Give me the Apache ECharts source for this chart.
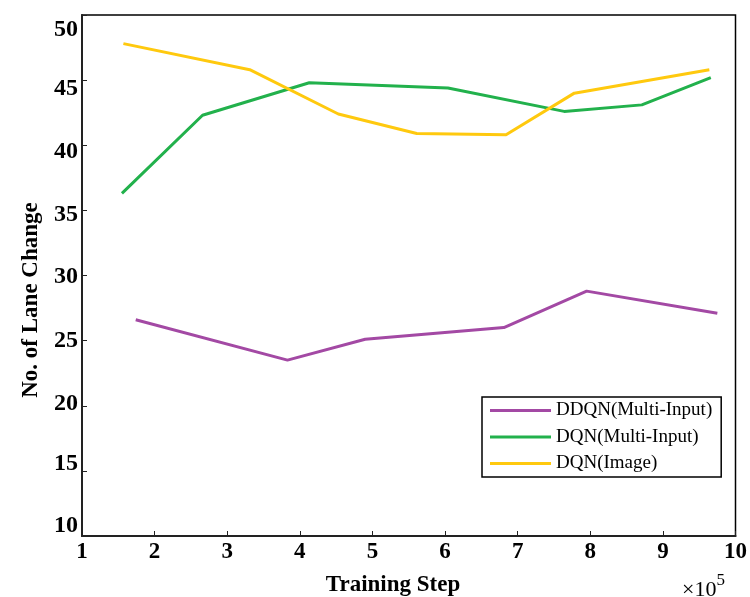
<!DOCTYPE html>
<html>
<head>
<meta charset="utf-8">
<script src="https://cdn.jsdelivr.net/npm/echarts@6/dist/echarts.min.js"></script>
<style>html,body{margin:0;padding:0;background:#fff;}#c{width:750px;height:597px;}</style>
</head>
<body>
<div id="c"></div>
<script>
// Data (x in units of 1e5 training steps)
const seriesNames = ['DDQN(Multi-Input)', 'DQN(Multi-Input)', 'DQN(Image)'];
const ddqnMultiX = [1.74, 3.83, 4.90, 6.81, 7.95, 9.75];
const ddqnMultiY = [26.6, 23.5, 25.1, 26.0, 28.8, 27.1];
const dqnMultiX = [1.55, 2.66, 4.13, 6.04, 7.64, 8.71, 9.66];
const dqnMultiY = [36.3, 42.3, 44.8, 44.4, 42.6, 43.1, 45.2];
const dqnImageX = [1.57, 3.31, 4.53, 5.61, 6.84, 7.78, 9.64];
const dqnImageY = [47.8, 45.8, 42.4, 40.9, 40.8, 44.0, 45.8];
const xTicks = [1, 2, 3, 4, 5, 6, 7, 8, 9, 10];
const yTicks = [10, 15, 20, 25, 30, 35, 40, 45, 50];

const colors = ['#A349A4', '#22B14C', '#FFC90E'];
const FONT = '"Liberation Serif", "Times New Roman", serif';

function pairs(xs, ys) { return xs.map((x, i) => [x, ys[i]]); }

// vertical shifts of y tick labels (px, positive = down), style only
const yLabelShift = {10: -10, 15: -7, 20: -2, 25: 0, 30: 1, 35: 4, 40: 7, 45: 9, 50: 15};
const yRich = {};
yTicks.forEach(v => {
  const s = yLabelShift[v] || 0;
  yRich['v' + v] = {
    fontFamily: FONT, fontWeight: 'bold', fontSize: 24, color: '#000',
    padding: s >= 0 ? [2 * s, 0, 0, 0] : [0, 0, -2 * s, 0]
  };
});

const chart = echarts.init(document.getElementById('c'), null, {renderer: 'canvas'});
const option = {
  backgroundColor: '#fff',
  animation: false,
  grid: {left: 82, top: 15, right: 11, bottom: 61, show: true, borderColor: '#000', borderWidth: 1.5, backgroundColor: 'transparent'},
  xAxis: {
    type: 'value', min: xTicks[0], max: xTicks[xTicks.length - 1], interval: 1,
    axisLine: {show: true, lineStyle: {color: '#222', width: 2}},
    axisTick: {show: true, inside: true, length: 5, lineStyle: {color: '#222', width: 1}},
    splitLine: {show: false},
    axisLabel: {fontFamily: FONT, fontWeight: 'bold', fontSize: 23, color: '#000', margin: 5}
  },
  yAxis: {
    type: 'value', min: yTicks[0], max: yTicks[yTicks.length - 1], interval: 5,
    axisLine: {show: true, lineStyle: {color: '#222', width: 2}},
    axisTick: {show: true, inside: true, length: 5, lineStyle: {color: '#222', width: 1}},
    splitLine: {show: false},
    axisLabel: {
      margin: 4,
      formatter: v => '{v' + v + '|' + v + '}',
      rich: yRich
    }
  },
  legend: {
    orient: 'vertical', left: 482, top: 397,
    padding: [4, 9, 4, 8], itemGap: 7.5,
    borderColor: '#000', borderWidth: 1.5, backgroundColor: '#fff',
    itemWidth: 61, itemHeight: 3, icon: 'rect',
    textStyle: {fontFamily: FONT, fontSize: 19, color: '#000', lineHeight: 18},
    data: seriesNames
  },
  series: [
    {name: seriesNames[0], type: 'line', data: pairs(ddqnMultiX, ddqnMultiY), showSymbol: false, symbol: 'none', lineStyle: {width: 3, color: colors[0]}, itemStyle: {color: colors[0]}},
    {name: seriesNames[1], type: 'line', data: pairs(dqnMultiX, dqnMultiY), showSymbol: false, symbol: 'none', lineStyle: {width: 3, color: colors[1]}, itemStyle: {color: colors[1]}},
    {name: seriesNames[2], type: 'line', data: pairs(dqnImageX, dqnImageY), showSymbol: false, symbol: 'none', lineStyle: {width: 3, color: colors[2]}, itemStyle: {color: colors[2]}}
  ],
  graphic: [
    {type: 'text', x: 393, y: 585, style: {text: 'Training Step', fontFamily: FONT, fontWeight: 'bold', fontSize: 23, fill: '#000', align: 'center', verticalAlign: 'middle'}},
    {type: 'text', x: 31, y: 300, rotation: Math.PI / 2, style: {text: 'No. of Lane Change', fontFamily: FONT, fontWeight: 'bold', fontSize: 23, fill: '#000', align: 'center', verticalAlign: 'middle'}},
    {type: 'text', x: 682, y: 590, style: {
      text: '{a|×10}{b|5}', verticalAlign: 'middle', align: 'left',
      rich: {
        a: {fontFamily: FONT, fontSize: 22, fill: '#000', color: '#000'},
        b: {fontFamily: FONT, fontSize: 17, fill: '#000', color: '#000', padding: [0, 0, 18, 0]}
      }
    }}
  ]
};
chart.setOption(option);
</script>
</body>
</html>
